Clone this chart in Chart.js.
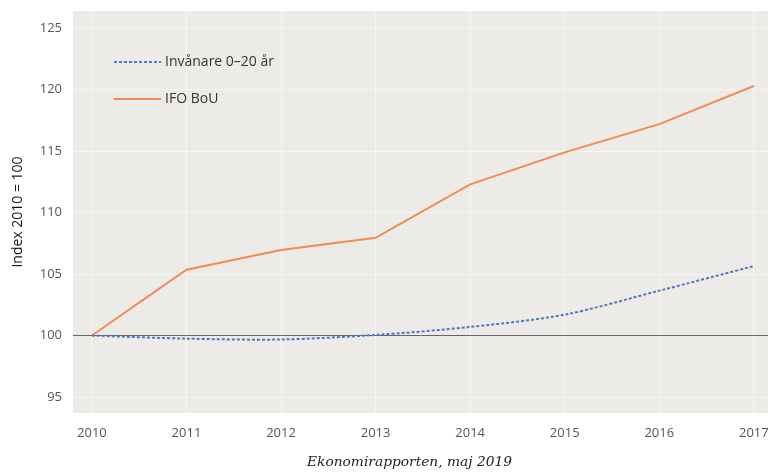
<!DOCTYPE html>
<html>
<head>
<meta charset="utf-8">
<script src="https://cdn.jsdelivr.net/npm/chart.js@4/dist/chart.umd.min.js"></script>
<style>
  html, body { margin: 0; padding: 0; background: #ffffff; }
  #wrap { width: 768px; height: 472px; }
</style>
</head>
<body>
<div id="wrap"><canvas id="myChart" width="768" height="472"></canvas></div>
<script>
'use strict';

var years = [2010, 2011, 2012, 2013, 2014, 2015, 2016, 2017];
var invanare = [100, 99.75, 99.68, 100.05, 100.7, 101.7, 103.65, 105.65];
var ifoBou = [100, 105.35, 106.95, 107.95, 112.3, 114.9, 117.2, 120.3];
var yTicks = [95, 100, 105, 110, 115, 120, 125];
var seriesNames = ['Invånare 0–20 år', 'IFO BoU'];
var footerText = 'Ekonomirapporten, maj 2019';

function toPoints(values) {
    var points = [];
    for (var i = 0; i < years.length; i++) {
        points.push({ x: years[i], y: values[i] });
    }
    return points;
}

// background of the plot area
var plotBackground = {
    id: 'plotBackground',
    beforeDraw: function(chart) {
        var ctx = chart.ctx;
        var a = chart.chartArea;
        ctx.save();
        ctx.fillStyle = '#edebe7';
        ctx.fillRect(a.left, a.top, a.right - a.left, a.bottom - a.top);
        ctx.restore();
    }
};

// legend inside the plot + footer text
var extras = {
    id: 'extras',
    afterDraw: function(chart) {
        var ctx = chart.ctx;
        ctx.save();
        var rows = [62, 99];
        for (var i = 0; i < chart.data.datasets.length; i++) {
            var ds = chart.data.datasets[i];
            ctx.beginPath();
            ctx.strokeStyle = ds.borderColor;
            ctx.lineWidth = ds.borderWidth;
            ctx.setLineDash(ds.borderDash || []);
            ctx.moveTo(114, rows[i]);
            ctx.lineTo(161, rows[i]);
            ctx.stroke();
            ctx.setLineDash([]);
            ctx.fillStyle = '#333333';
            ctx.font = '14px "Open Sans"';
            ctx.textBaseline = 'middle';
            ctx.textAlign = 'left';
            ctx.fillText(ds.label, 165, rows[i]);
        }
        ctx.font = 'italic 12px "DejaVu Serif"';
        ctx.fillStyle = '#222222';
        ctx.textBaseline = 'middle';
        ctx.textAlign = 'left';
        var w = ctx.measureText(footerText).width;
        ctx.save();
        ctx.translate(307, 463);
        ctx.scale(205 / w, 1);
        ctx.fillText(footerText, 0, 0);
        ctx.restore();
        ctx.restore();
    }
};

var ctx = document.getElementById('myChart').getContext('2d');

var chart = new Chart(ctx, {
    type: 'line',
    data: {
        datasets: [{
            label: seriesNames[0],
            data: toPoints(invanare),
            borderColor: '#4f78c4',
            borderWidth: 2,
            borderDash: [3, 2],
            pointRadius: 0,
            tension: 0.3,
            fill: false
        }, {
            label: seriesNames[1],
            data: toPoints(ifoBou),
            borderColor: '#f48b4e',
            borderWidth: 2,
            pointRadius: 0,
            tension: 0,
            fill: false
        }]
    },
    options: {
        responsive: false,
        animation: false,
        devicePixelRatio: 1,
        layout: { padding: { top: 11, right: 0, left: 0, bottom: 0 } },
        plugins: {
            legend: { display: false },
            tooltip: { enabled: false }
        },
        scales: {
            x: {
                type: 'linear',
                min: 2009.8,
                max: 2017.15,
                afterBuildTicks: function(scale) {
                    scale.ticks = years.map(function(v) { return { value: v }; });
                },
                afterFit: function(scale) {
                    scale.height = 59;
                    scale.paddingLeft = 0;
                    scale.paddingRight = 0;
                },
                border: { display: false },
                grid: { color: '#f6f5f2', lineWidth: 1, drawTicks: false },
                ticks: {
                    padding: 12,
                    color: '#555555',
                    font: { family: '"Open Sans"', size: 13 },
                    maxRotation: 0,
                    autoSkip: false,
                    callback: function(v) { return String(v); }
                }
            },
            y: {
                min: 93.7,
                max: 126.4,
                afterBuildTicks: function(scale) {
                    scale.ticks = yTicks.map(function(v) { return { value: v }; });
                },
                afterFit: function(scale) {
                    scale.width = 73;
                    scale.paddingTop = 0;
                    scale.paddingBottom = 0;
                },
                border: { display: false },
                grid: {
                    drawTicks: false,
                    color: function(c) { return c.tick && c.tick.value === 100 ? '#666666' : '#f6f5f2'; },
                    lineWidth: 1
                },
                title: {
                    display: true,
                    text: 'Index 2010 = 100',
                    color: '#111111',
                    font: { family: '"Open Sans"', size: 14 },
                    padding: { top: 10, bottom: 0 }
                },
                ticks: {
                    padding: 11,
                    color: '#555555',
                    font: { family: '"Open Sans"', size: 13 }
                }
            }
        }
    },
    plugins: [plotBackground, extras]
});
</script>
</body>
</html>
